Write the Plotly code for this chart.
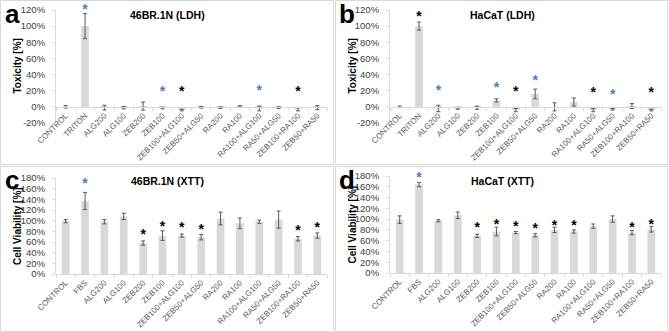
import plotly.graph_objects as go

W, H = 669, 332

categories_ldh = ["CONTROL", "TRITON", "ALG200", "ALG100", "ZEB200", "ZEB100", "ZEB100+ALG100",
                  "ZEB50+ALG50", "RA200", "RA100", "RA100+ALG100", "RA50+ALG50", "ZEB100+RA100", "ZEB50+RA50"]
categories_xtt = ["CONTROL", "FBS", "ALG200", "ALG100", "ZEB200", "ZEB100", "ZEB100+ALG100",
                  "ZEB50+ALG50", "RA200", "RA100", "RA100+ALG100", "RA50+ALG50", "ZEB100+RA100", "ZEB50+RA50"]

# Panel a: 46BR.1N (LDH) toxicity
tox_46br = [0, 100, -1, -1, 1, -1.5, -4, -0.5, -1, 0.5, -2, -1, -3, -1]
tox_46br_err = [1.5, 15.5, 3, 1.5, 5, 1, 1, 1, 1, 1, 3, 1, 2, 2.5]
stars_a_cat = ["TRITON", "ZEB100", "ZEB100+ALG100", "RA100+ALG100", "ZEB100+RA100"]
stars_a_y = [120, 18, 18, 19, 18]
stars_a_col = ["blue", "blue", "black", "blue", "black"]

# Panel b: HaCaT (LDH) toxicity
tox_hacat = [0, 100, -2, -2, -1, 8, -4, 16, 0, 6, -4, -3, 1, -4]
tox_hacat_err = [1, 5, 4, 1, 2, 2, 2, 6, 5, 5, 2, 1, 3, 1]
stars_b_cat = ["TRITON", "ALG200", "ZEB100", "ZEB100+ALG100", "ZEB50+ALG50", "RA100+ALG100",
               "RA50+ALG50", "ZEB50+RA50"]
stars_b_y = [111, 19, 23, 18, 31, 16, 14, 16]
stars_b_col = ["black", "blue", "blue", "black", "blue", "black", "blue", "black"]

# Panel c: 46BR.1N (XTT) viability
via_46br = [99, 137, 98, 108, 58, 72, 72, 69, 104, 95, 98, 102, 66, 72]
via_46br_err = [3, 16, 4, 6, 4, 9, 3, 5, 12, 10, 3, 16, 4, 5]
stars_c_cat = ["FBS", "ZEB200", "ZEB100", "ZEB100+ALG100", "ZEB50+ALG50", "ZEB100+RA100", "ZEB50+RA50"]
stars_c_y = [168, 72, 88, 86, 82, 79, 86]
stars_c_col = ["blue", "black", "black", "black", "black", "black", "black"]

# Panel d: HaCaT (XTT) viability
via_hacat = [99, 164, 97, 107, 69, 77, 75, 70, 80, 77, 87, 100, 75, 81]
via_hacat_err = [7, 4, 2, 6, 3, 8, 2, 3, 5, 3, 4, 6, 4, 5]
stars_d_cat = ["FBS", "ZEB200", "ZEB100", "ZEB100+ALG100", "ZEB50+ALG50", "RA200", "RA100",
               "ZEB100+RA100", "ZEB50+RA50"]
stars_d_y = [176, 82, 88, 85, 80, 87, 86, 82, 88]
stars_d_col = ["blue", "black", "black", "black", "black", "black", "black", "black", "black"]

ticks_ldh = [-20, 0, 20, 40, 60, 80, 100, 120]
ticks_xtt = [0, 20, 40, 60, 80, 100, 120, 140, 160, 180]

COLS = {"blue": "#4a7ebb", "black": "#000000"}
FONT = "Liberation Sans, Arial, sans-serif"
GRID = "#d9d9d9"


def px(x):
    return x / W


def py(y):
    return 1 - y / H


panels = [
    dict(cats=categories_ldh, vals=tox_46br, err=tox_46br_err, scat=stars_a_cat, sy=stars_a_y, sc=stars_a_col,
         ticks=ticks_ldh, rng=[-20, 120], x=(56, 327), y=(123, 10), ytitle="Toxicity [%]",
         title="46BR.1N (LDH)", letter="a", box=(0, 0, 333, 164), axis_y=107),
    dict(cats=categories_ldh, vals=tox_hacat, err=tox_hacat_err, scat=stars_b_cat, sy=stars_b_y, sc=stars_b_col,
         ticks=ticks_ldh, rng=[-20, 120], x=(390, 661), y=(123, 10), ytitle="Toxicity [%]",
         title="HaCaT (LDH)", letter="b", box=(335, 0, 667, 164), axis_y=107),
    dict(cats=categories_xtt, vals=via_46br, err=via_46br_err, scat=stars_c_cat, sy=stars_c_y, sc=stars_c_col,
         ticks=ticks_xtt, rng=[0, 180], x=(56, 327), y=(274, 178), ytitle="Cell Viability [%]",
         title="46BR.1N (XTT)", letter="c", box=(0, 166, 333, 331), axis_y=274),
    dict(cats=categories_xtt, vals=via_hacat, err=via_hacat_err, scat=stars_d_cat, sy=stars_d_y, sc=stars_d_col,
         ticks=ticks_xtt, rng=[0, 180], x=(390, 661), y=(273, 176), ytitle="Cell Viability [%]",
         title="HaCaT (XTT)", letter="d", box=(335, 166, 667, 331), axis_y=273),
]

fig = go.Figure()
shapes = []
annotations = []
layout = {}

for i, p in enumerate(panels, start=1):
    xa = "x" if i == 1 else f"x{i}"
    ya = "y" if i == 1 else f"y{i}"
    fig.add_trace(go.Bar(
        x=p["cats"], y=p["vals"], xaxis=xa, yaxis=ya, width=0.4,
        marker=dict(color="#d9d9d9", line=dict(width=0)),
        error_y=dict(type="data", array=p["err"], color="#595959", thickness=1, width=2),
        showlegend=False,
    ))
    fig.add_trace(go.Scatter(
        x=p["scat"], y=p["sy"], xaxis=xa, yaxis=ya, mode="text", text=["<b>*</b>"] * len(p["scat"]),
        textfont=dict(family=FONT, size=14, color=[COLS[c] for c in p["sc"]]),
        textposition="middle center", showlegend=False, cliponaxis=False,
    ))
    xkey = "xaxis" if i == 1 else f"xaxis{i}"
    ykey = "yaxis" if i == 1 else f"yaxis{i}"
    layout[xkey] = dict(
        domain=[px(p["x"][0]), px(p["x"][1])], anchor="free", position=py(p["axis_y"]),
        type="category", automargin=False,
        tickangle=-45, tickfont=dict(family=FONT, size=8, color="#595959"),
        showgrid=False, zeroline=False,
        showline=True, linecolor=GRID, linewidth=1,
        ticks="outside", tickson="boundaries", ticklen=3, tickcolor=GRID,
        range=[-0.5, 13.5], fixedrange=True,
    )
    layout[ykey] = dict(
        domain=[py(p["y"][0]), py(p["y"][1])], anchor=xa, range=p["rng"], automargin=False,
        tickvals=p["ticks"], ticktext=[f"{t}%" for t in p["ticks"]],
        tickfont=dict(family=FONT, size=9.5, color="#404040"),
        showgrid=False, showline=True, linecolor=GRID, linewidth=1,
        ticks="outside", ticklen=3, tickcolor=GRID, ticklabelstandoff=5,
        zeroline=False,
        fixedrange=True,
    )
    x0, y0, x1, y1 = p["box"]
    shapes.append(dict(type="rect", xref="paper", yref="paper",
                       x0=px(x0 + 0.5), x1=px(x1 + 0.5), y0=py(y0 + 0.5), y1=py(y1 + 0.5),
                       line=dict(color="#d9d9d9", width=1)))
    annotations.append(dict(xref="paper", yref="paper", x=px(x0 + 12), y=py(y0 + 14),
                            text=f"<b>{p['letter']}</b>", showarrow=False,
                            font=dict(family=FONT, size=26, color="#000000"),
                            xanchor="center", yanchor="middle"))
    annotations.append(dict(xref="paper", yref="paper", x=px(x0 + 167), y=py(y0 + 15),
                            text=f"<b>{p['title']}</b>", showarrow=False,
                            font=dict(family=FONT, size=10.5, color="#000000"),
                            xanchor="center", yanchor="middle"))
    ymid = (p["y"][0] + p["y"][1]) / 2
    annotations.append(dict(xref="paper", yref="paper", x=px(x0 + 17), y=py(ymid),
                            text=f"<b>{p['ytitle']}</b>", showarrow=False, textangle=-90,
                            font=dict(family=FONT, size=10, color="#000000"),
                            xanchor="center", yanchor="middle"))

fig.update_layout(
    width=W, height=H, margin=dict(l=0, r=0, t=0, b=0, autoexpand=False),
    paper_bgcolor="white", plot_bgcolor="white",
    shapes=shapes, annotations=annotations, showlegend=False,
    **layout,
)

fig.write_html("out.html")
